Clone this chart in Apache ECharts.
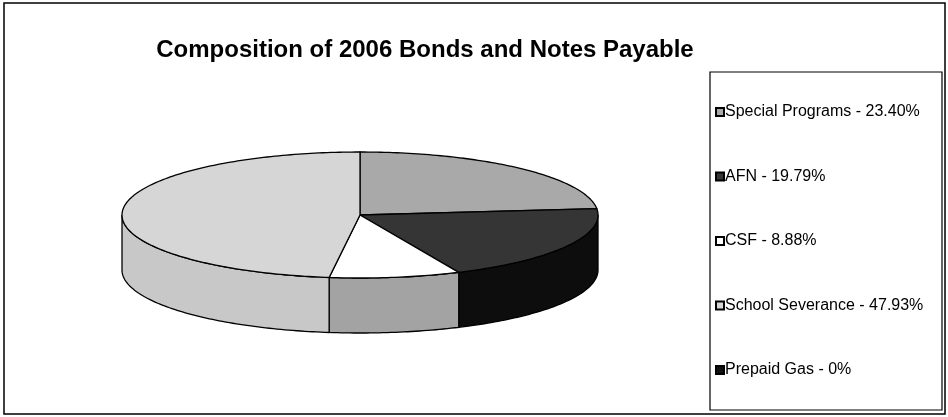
<!DOCTYPE html>
<html>
<head>
<meta charset="utf-8">
<script src="https://cdn.jsdelivr.net/npm/echarts@6/dist/echarts.min.js"></script>
<style>
  html, body { margin: 0; padding: 0; background: #fff; }
  #main { width: 948px; height: 417px; }
</style>
</head>
<body>
<div id="main"></div>
<script>
var categories = ['Special Programs', 'AFN', 'CSF', 'School Severance', 'Prepaid Gas'];
var shares = [23.40, 19.79, 8.88, 47.93, 0];
var pctLabels = ['23.40%', '19.79%', '8.88%', '47.93%', '0%'];

// grayscale fills of the scanned excel chart
var topColors = ['#a9a9a9', '#353535', '#ffffff', '#d6d6d6', '#111111'];
var sideColors = ['#8c8c8c', '#0d0d0d', '#a3a3a3', '#c8c8c8', '#000000'];

// 3d pie layout
var pie = { cx: 360, cy: 215, rx: 238, ry: 63, depth: 55 };

var total = shares.reduce(function (a, b) { return a + b; }, 0);

function pt(deg, dy) {
  var r = deg * Math.PI / 180;
  return [pie.cx + pie.rx * Math.sin(r), pie.cy - pie.ry * Math.cos(r) + (dy || 0)];
}

function arc(a, b, dy) {
  var out = [];
  var n = Math.max(2, Math.ceil(Math.abs(b - a)));
  for (var i = 0; i <= n; i++) {
    out.push(pt(a + (b - a) * i / n, dy));
  }
  return out;
}

function sliceRenderer(k) {
  return function (params, api) {
    var v = api.value(0);
    if (!v) return { type: 'group', children: [] };
    var before = 0;
    for (var i = 0; i < k; i++) before += shares[i];
    var a = before / total * 360;
    var b = a + v / total * 360;
    var children = [];
    // front wall, only the part between 3 and 9 o'clock is seen
    var lo = Math.max(a, 90), hi = Math.min(b, 270);
    if (hi > lo) {
      var wall = arc(lo, hi, 0).concat(arc(hi, lo, pie.depth));
      children.push({
        type: 'polygon',
        shape: { points: wall },
        style: { fill: sideColors[k], stroke: '#000', lineWidth: 1.3 }
      });
    }
    var top = [[pie.cx, pie.cy]].concat(arc(a, b, 0));
    children.push({
      type: 'polygon',
      shape: { points: top },
      style: { fill: topColors[k], stroke: '#000', lineWidth: 1.3 }
    });
    return { type: 'group', children: children };
  };
}

var series = categories.map(function (name, k) {
  return {
    name: name,
    type: 'custom',
    coordinateSystem: 'none',
    renderItem: sliceRenderer(k),
    itemStyle: { color: topColors[k], borderColor: '#000', borderWidth: 1 },
    data: [[shares[k]]]
  };
});

var chart = echarts.init(document.getElementById('main'));
var option = {
  backgroundColor: '#fff',
  animation: false,
  title: {
    text: 'Composition of 2006 Bonds and Notes Payable',
    left: 420,
    top: 33,
    textAlign: 'center',
    textStyle: {
      fontFamily: 'Liberation Sans, Arial, sans-serif',
      fontSize: 24,
      fontWeight: 'bold',
      color: '#000'
    }
  },
  legend: {
    orient: 'vertical',
    left: 715,
    top: 104,
    height: 300,
    data: categories,
    icon: 'rect',
    itemWidth: 8,
    itemHeight: 8,
    itemGap: 48.5,
    padding: 0,
    selectedMode: false,
    formatter: function (name) {
      return name + ' - ' + pctLabels[categories.indexOf(name)];
    },
    textStyle: {
      fontFamily: 'Liberation Sans, Arial, sans-serif',
      fontSize: 16,
      color: '#000',
      padding: [0, 0, 0, -4]
    }
  },
  graphic: [{
    type: 'rect',
    shape: { x: 4, y: 3, width: 941, height: 411 },
    style: { fill: null, stroke: '#000', lineWidth: 1.5 },
    silent: true
  }, {
    type: 'rect',
    shape: { x: 710, y: 72, width: 232, height: 338 },
    style: { fill: null, stroke: '#000', lineWidth: 1.2 },
    silent: true
  }],
  series: series
};
chart.setOption(option);
</script>
</body>
</html>
